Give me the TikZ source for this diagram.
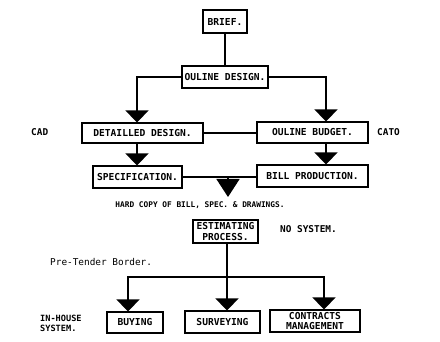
\documentclass[tikz,border=0pt]{standalone}
\usepackage{fontspec}
\setmonofont{DejaVu Sans Mono}
\usetikzlibrary{arrows.meta}
\begin{document}
\begin{tikzpicture}[x=1pt,y=-1pt,
  box/.style={draw,line width=1.1pt,inner sep=0pt,align=center,font=\ttfamily\bfseries\fontsize{9.6}{10.5}\selectfont},
  lbl/.style={inner sep=0pt,align=left,font=\ttfamily\bfseries\fontsize{9.4}{10.5}\selectfont},
  conn/.style={line width=1.5pt},
  arr/.style={line width=1.5pt,-{Triangle[width=23pt,length=12pt]}},
  bigarr/.style={line width=1.5pt,-{Triangle[width=23pt,length=18pt]}}]
\useasboundingbox (0,0) rectangle (440,342);
% boxes
\node[box,minimum width=44pt,minimum height=23pt] (brief) at (225,21.5) {BRIEF.};
\node[box,minimum width=86pt,minimum height=22pt] (odesign) at (225,77) {OULINE DESIGN.};
\node[box,minimum width=121pt,minimum height=20pt] (ddesign) at (142.5,133) {DETAILLED DESIGN.};
\node[box,minimum width=111pt,minimum height=21pt] (obudget) at (312.5,132.5) {OULINE BUDGET.};
\node[box,minimum width=89pt,minimum height=22pt] (spec) at (137.5,177) {SPECIFICATION.};
\node[box,minimum width=111pt,minimum height=22pt] (bill) at (312.5,176) {BILL PRODUCTION.};
\node[box,minimum width=65pt,minimum height=23pt] (estim) at (225.5,231.5) {ESTIMATING\\PROCESS.};
\node[box,minimum width=56pt,minimum height=21pt] (buying) at (135,322.5) {BUYING};
\node[box,minimum width=75pt,minimum height=22pt] (surv) at (222.5,322) {SURVEYING};
\node[box,minimum width=90pt,minimum height=22pt] (contr) at (315,321) {CONTRACTS\\MANAGEMENT};
% labels
\node[lbl,anchor=west] (cad) at (31,132) {CAD};
\node[lbl,anchor=west] (cato) at (377,132) {CATO};
\node[lbl,font=\ttfamily\bfseries\fontsize{7.8}{9}\selectfont] (hard) at (200,205.5) {HARD COPY OF BILL, SPEC. \& DRAWINGS.};
\node[lbl,anchor=west] (nosys) at (280,229) {NO SYSTEM.};
\node[lbl,anchor=west,font=\ttfamily\fontsize{9.4}{10.5}\selectfont] (pre) at (50,262) {Pre-Tender Border.};
\node[lbl,anchor=west,font=\ttfamily\bfseries\fontsize{8.6}{10}\selectfont] (inhouse) at (40,323) {IN-HOUSE\\SYSTEM.};
% column coordinates
\coordinate (cL) at (137,0);
\coordinate (cR) at (326,0);
\coordinate (cM) at (227,0);
\coordinate (bL) at (128,0);
\coordinate (bR) at (324,0);
\coordinate (hc) at (228,197);
\coordinate (split) at (228,177);
\coordinate (bus) at (0,277);
% connectors
\draw[conn] (brief) -- (odesign);
\draw[arr] (odesign.west) -| (ddesign.north -| cL);
\draw[arr] (odesign.east) -| (obudget.north -| cR);
\draw[conn] (ddesign.east) -- (obudget.west |- ddesign.east);
\draw[arr] (ddesign.south -| cL) -- (spec.north -| cL);
\draw[arr] (obudget.south -| cR) -- (bill.north -| cR);
\draw[conn] (spec.east) -- (bill.west |- spec.east);
\draw[bigarr] (split) -- (hc);
\draw[conn] (estim.south -| cM) -- (bus -| cM);
\draw[arr] (bus -| cM) -| (buying.north -| bL);
\draw[arr] (bus -| cM) -- (surv.north -| cM);
\draw[arr] (bus -| cM) -| (contr.north -| bR);
\end{tikzpicture}
\end{document}
